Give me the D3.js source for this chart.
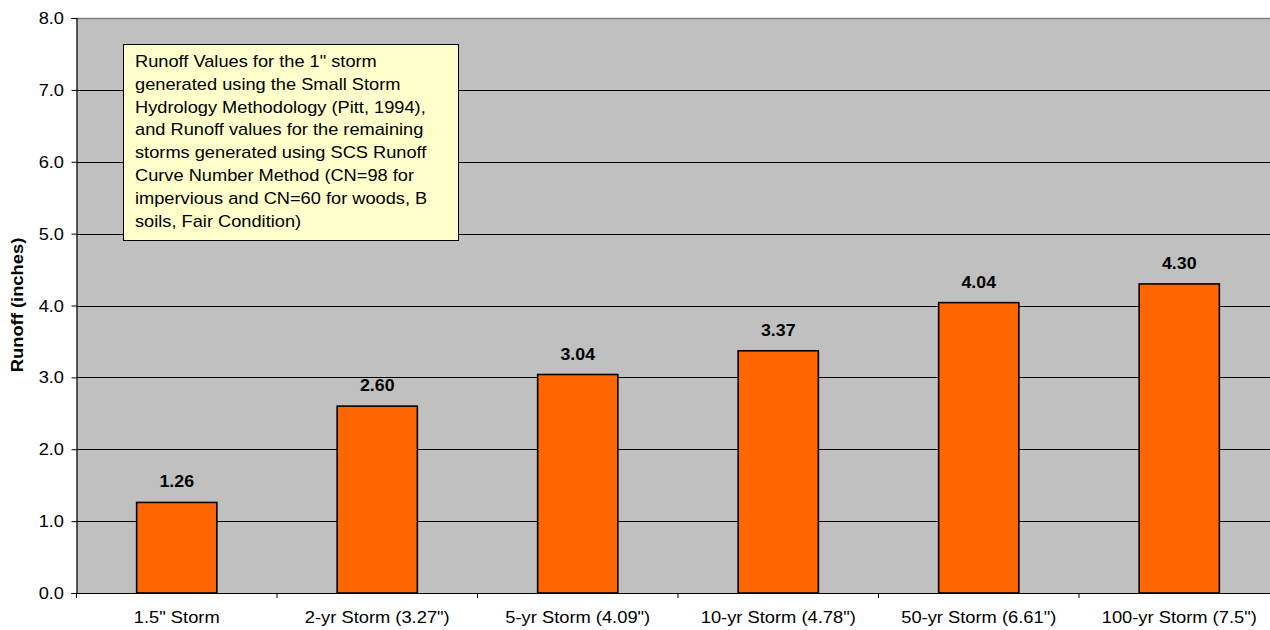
<!DOCTYPE html>
<html>
<head>
<meta charset="utf-8">
<script src="https://cdn.jsdelivr.net/npm/d3@7"></script>
<style>
  body { margin: 0; background: #fff; }
  svg { display: block; font-family: Arial, "Liberation Sans", sans-serif; }
</style>
</head>
<body>
<svg id="chart" width="1270" height="630"></svg>
<script>
// Storm categories and the runoff computed for each (inches)
const categories = ['1.5" Storm', '2-yr Storm (3.27")', '5-yr Storm (4.09")', '10-yr Storm (4.78")', '50-yr Storm (6.61")', '100-yr Storm (7.5")'];
const runoff = [1.26, 2.60, 3.04, 3.37, 4.04, 4.30];
const yTicks = [0, 1, 2, 3, 4, 5, 6, 7, 8];
const yTitle = "Runoff (inches)";
const noteLines = [
  'Runoff Values for the 1" storm',
  'generated using the Small Storm',
  'Hydrology Methodology (Pitt, 1994),',
  'and Runoff values for the remaining',
  'storms generated using SCS Runoff',
  'Curve Number Method (CN=98 for',
  'impervious and CN=60 for woods, B',
  'soils, Fair Condition)'
];

const svg = d3.select("#chart");
const plot = { left: 76.5, right: 1279.5, top: 18, bottom: 593 };

const x = d3.scaleBand().domain(categories).range([plot.left, plot.right])
  .paddingInner(0.6).paddingOuter(0.3);
const y = d3.scaleLinear().domain([0, 8]).range([plot.bottom, plot.top]);

// Text helper: wide-set glyphs, stretched along the baseline
function label(parent, str, px, py, opts) {
  const o = Object.assign({ size: 16, weight: "normal", anchor: "start", stretch: 1.14, rotate: 0 }, opts || {});
  let tf = `translate(${px},${py})`;
  if (o.rotate) tf += ` rotate(${o.rotate})`;
  tf += ` scale(${o.stretch},1)`;
  return parent.append("text")
    .attr("transform", tf)
    .attr("text-anchor", o.anchor)
    .attr("font-size", o.size)
    .attr("font-weight", o.weight)
    .attr("fill", "#000")
    .text(str);
}

// Plot background
svg.append("rect")
  .attr("x", plot.left).attr("y", plot.top)
  .attr("width", plot.right - plot.left).attr("height", plot.bottom - plot.top)
  .attr("fill", "#C0C0C0");

// Horizontal gridlines
svg.append("g").selectAll("line")
  .data(yTicks.filter(d => d > 0 && d < 8))
  .join("line")
  .attr("x1", plot.left).attr("x2", plot.right)
  .attr("y1", d => Math.round(y(d)) + 0.5).attr("y2", d => Math.round(y(d)) + 0.5)
  .attr("stroke", "#000").attr("stroke-width", 1);

// Top border of the plot area
svg.append("line")
  .attr("x1", plot.left).attr("x2", plot.right)
  .attr("y1", plot.top + 0.5).attr("y2", plot.top + 0.5)
  .attr("stroke", "#808080").attr("stroke-width", 1.5);

// Y axis
const yAxis = d3.axisLeft(y).tickValues(yTicks).tickSize(5).tickFormat(d => d.toFixed(1));
const yg = svg.append("g").attr("transform", `translate(${plot.left},0)`).call(yAxis);
yg.select(".domain").attr("stroke", "#000").attr("stroke-width", 1.2);
yg.selectAll(".tick line").attr("stroke", "#000");
yg.selectAll(".tick text").remove();
yg.selectAll(".tick").each(function (d) {
  label(d3.select(this), d.toFixed(1), -12.5, 5.6, { anchor: "end", stretch: 1.14 });
});

// Bars
svg.append("g").selectAll("rect")
  .data(runoff)
  .join("rect")
  .attr("x", (d, i) => x(categories[i]))
  .attr("y", d => y(d))
  .attr("width", x.bandwidth())
  .attr("height", d => y(0) - y(d))
  .attr("fill", "#FF6600")
  .attr("stroke", "#000")
  .attr("stroke-width", 1.6);

// Value labels above bars
const valG = svg.append("g");
runoff.forEach((v, i) => {
  label(valG, v.toFixed(2), x(categories[i]) + x.bandwidth() / 2, y(v) - 15,
    { anchor: "middle", weight: "bold", stretch: 1.11 });
});

// X axis line and category boundary ticks
const step = x.step();
const boundaries = categories.map(c => x(c) - (step - x.bandwidth()) / 2);
boundaries.push(boundaries[boundaries.length - 1] + step);
svg.append("line")
  .attr("x1", plot.left - 5).attr("x2", plot.right)
  .attr("y1", plot.bottom + 0.5).attr("y2", plot.bottom + 0.5)
  .attr("stroke", "#000").attr("stroke-width", 1.2);
svg.append("g").selectAll("line")
  .data(boundaries)
  .join("line")
  .attr("x1", d => d).attr("x2", d => d)
  .attr("y1", plot.bottom).attr("y2", plot.bottom + 5)
  .attr("stroke", "#000");

// Category labels
const catG = svg.append("g");
categories.forEach(c => {
  label(catG, c, x(c) + x.bandwidth() / 2, 623, { anchor: "middle", stretch: 1.145 });
});

// Y axis title
label(svg, yTitle, 23, 305, { anchor: "middle", weight: "bold", size: 17, rotate: -90, stretch: 1.08 });

// Explanatory note box
const note = svg.append("g");
note.append("rect")
  .attr("x", 123.5).attr("y", 44.5).attr("width", 335).attr("height", 196)
  .attr("fill", "#FFFFCC").attr("stroke", "#000").attr("stroke-width", 1);
noteLines.forEach((t, i) => {
  label(note, t, 135, 66.7 + i * 22.9, { stretch: 1.14 });
});
</script>
</body>
</html>
